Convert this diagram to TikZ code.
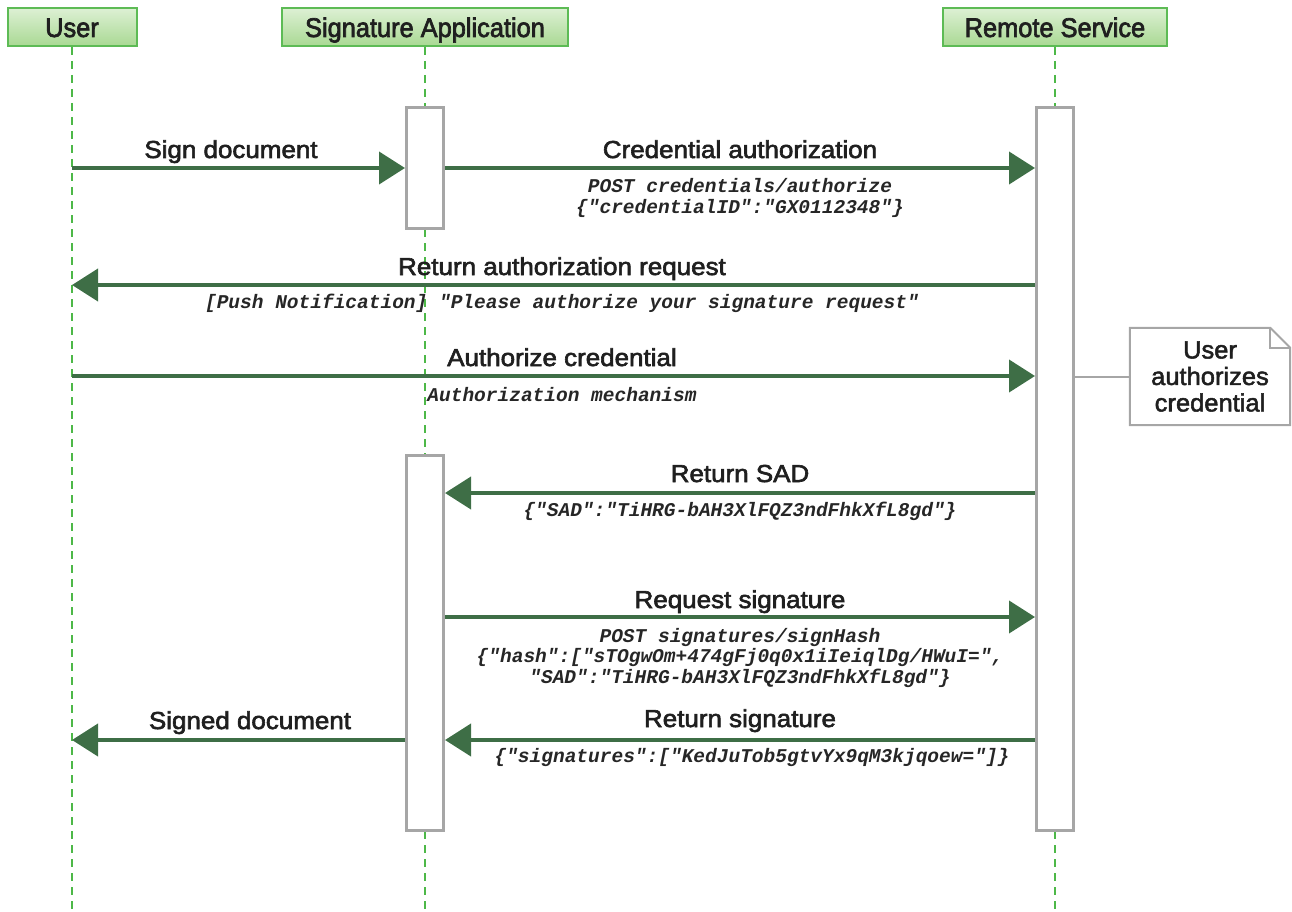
\documentclass[tikz,border=0pt]{standalone}
\usepackage{fontspec}
\setmainfont{Liberation Sans}
\newfontfamily\condf[FakeStretch=1.06,FakeBold=2.5]{Liberation Sans}
\newfontfamily\hdrf[FakeStretch=0.94,FakeBold=2.5]{Liberation Sans}
\newfontfamily\notef[FakeStretch=1.02,FakeBold=2]{Liberation Sans}
\newfontfamily\monof{Liberation Mono}
\usetikzlibrary{arrows.meta}
\definecolor{arrgreen}{HTML}{3E6E46}
\definecolor{lifegreen}{HTML}{4DB848}
\definecolor{hdrborder}{HTML}{5DBB55}
\definecolor{hdrtop}{HTML}{DDF0D4}
\definecolor{hdrbot}{HTML}{A9D993}
\definecolor{actgray}{HTML}{A6A6A6}
\tikzset{
  hdr/.style={draw=hdrborder, line width=2pt, top color=hdrtop, bottom color=hdrbot,
    minimum height=38pt, inner sep=0pt, text height=20pt, text depth=0pt,
    font=\hdrf\fontsize{27}{30}\selectfont, text=black!88},
  lifeline/.style={draw=lifegreen, line width=2pt, dash pattern=on 8pt off 6pt},
  actbox/.style={draw=actgray, line width=3pt, fill=white, minimum width=37pt, inner sep=0pt},
  msg/.style={draw=arrgreen, line width=4pt, -{Triangle[length=26pt,width=32pt]}},
  lbl/.style={font=\condf\fontsize{24.5}{28}\selectfont, text=black!88, inner sep=0pt, anchor=base},
  mono/.style={font=\monof\bfseries\itshape\fontsize{19.5}{20.5}\selectfont, text=black!85, inner sep=0pt, align=center},
  notebox/.style={font=\notef\fontsize{25}{26.5}\selectfont, text=black!88, align=center, inner sep=0pt}
}
\begin{document}
\begin{tikzpicture}[x=1pt,y=-1pt]
\useasboundingbox (0,0) rectangle (1292,912);
% participants
\node[hdr, minimum width=129pt] (user) at (72,27) {User};
\node[hdr, minimum width=286pt] (sapp) at (425,27) {Signature Application};
\node[hdr, minimum width=224pt] (rsvc) at (1055,27) {Remote Service};
% lifelines
\coordinate (userend) at (72,912);
\coordinate (sappend) at (425,912);
\coordinate (rsvcend) at (1055,912);
\draw[lifeline] (user.south) -- (userend);
\draw[lifeline] (sapp.south) -- (sappend);
\draw[lifeline] (rsvc.south) -- (rsvcend);
% activation boxes
\node[actbox, minimum height=120pt] (sa1) at (425,168) {};
\node[actbox, minimum height=375pt] (sa2) at (425,642.5) {};
\node[actbox, minimum height=722pt] (rs1) at (1055,469) {};
% note
\node[notebox, minimum width=160pt, minimum height=97pt] (note) at (1210,376.5) {User\\authorizes\\credential};
\draw[actgray, line width=2pt] (note.north west) -- ([xshift=-20pt]note.north east) -- ([yshift=-20pt]note.north east) -- (note.south east) -- (note.south west) -- cycle;
\draw[actgray, line width=2pt] ([xshift=-20pt]note.north east) -- ([xshift=-20pt,yshift=-20pt]note.north east) -- ([yshift=-20pt]note.north east);
\draw[actgray, line width=2pt] (rs1.east |- note.west) -- (note.west);
% messages
\draw[msg] (user.south |- 0,168) -- (sa1.west |- 0,168);
\node[lbl] (l1) at (231,158) {Sign document};
\draw[msg] (sa1.east |- 0,168) -- (rs1.west |- 0,168);
\node[lbl] (l2) at (740,158) {Credential authorization};
\node[mono] (m2) at (740,198) {POST credentials/authorize\\\{"credentialID":"GX0112348"\}};
\draw[msg] (rs1.west |- 0,285) -- (user.south |- 0,285);
\node[lbl] (l3) at (562,275) {Return authorization request};
\node[mono] (m3) at (562,303) {[Push Notification] "Please authorize your signature request"};
\draw[msg] (user.south |- 0,376) -- (rs1.west |- 0,376);
\node[lbl] (l4) at (562,366) {Authorize credential};
\node[mono] (m4) at (562,395) {Authorization mechanism};
\draw[msg] (rs1.west |- 0,493) -- (sa2.east |- 0,493);
\node[lbl] (l5) at (740,482) {Return SAD};
\node[mono] (m5) at (740,511) {\{"SAD":"TiHRG-bAH3XlFQZ3ndFhkXfL8gd"\}};
\draw[msg] (sa2.east |- 0,617) -- (rs1.west |- 0,617);
\node[lbl] (l6) at (740,608) {Request signature};
\node[mono] (m6) at (740,657.5) {POST signatures/signHash\\\{"hash":["sTOgwOm+474gFj0q0x1iIeiqlDg/HWuI=",\\"SAD":"TiHRG-bAH3XlFQZ3ndFhkXfL8gd"\}};
\draw[msg] (rs1.west |- 0,740) -- (sa2.east |- 0,740);
\node[lbl] (l7) at (740,727) {Return signature};
\node[mono] (m7) at (752,757) {\{"signatures":["KedJuTob5gtvYx9qM3kjqoew="]\}};
\draw[msg] (sa2.west |- 0,740) -- (user.south |- 0,740);
\node[lbl] (l8) at (250,729) {Signed document};
\end{tikzpicture}
\end{document}
